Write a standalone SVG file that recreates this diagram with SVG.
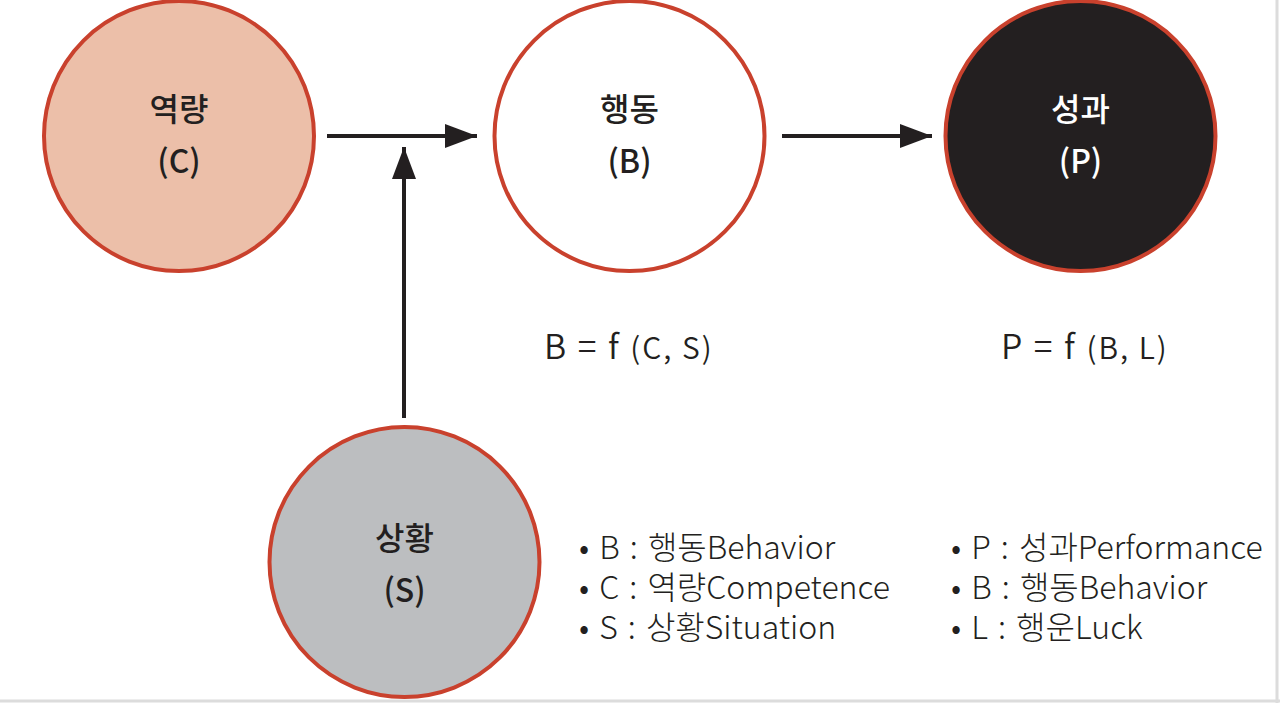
<svg xmlns="http://www.w3.org/2000/svg" width="1280" height="703" viewBox="0 0 1280 703">
  <defs>
    <style>
      .node { stroke: #c9412d; stroke-width: 4; }
      .lbl { font-family: "Noto Sans CJK KR", "Noto Sans", sans-serif; font-size: 32px; font-weight: 500; text-anchor: middle; fill: #231f20; }
      .lblw { fill: #ffffff; }
      .eq { font-family: "Noto Sans CJK KR", "Noto Sans", sans-serif; font-weight: 350; fill: #231f20; }
      .legend { font-family: "Noto Sans CJK KR", "Noto Sans", sans-serif; font-size: 32px; font-weight: 300; word-spacing: 3px; fill: #231f20; }
      .conn { stroke: #231f20; stroke-width: 4; fill: none; }
    </style>
    <marker id="arrow" viewBox="0 0 32 24" refX="32" refY="12" markerWidth="32" markerHeight="24" markerUnits="userSpaceOnUse" orient="auto">
      <path d="M0,0 L32,12 L0,24 Z" fill="#231f20"/>
    </marker>
  </defs>

  <rect x="0" y="0" width="1280" height="703" fill="#ffffff"/>
  <line x1="1277" y1="0" x2="1277" y2="703" stroke="#dcdcdc" stroke-width="3"/>
  <line x1="0" y1="701" x2="1280" y2="701" stroke="#dcdcdc" stroke-width="3"/>

  <g id="connectors">
    <line class="conn" x1="327" y1="136" x2="477" y2="136" marker-end="url(#arrow)"/>
    <line class="conn" x1="782" y1="136" x2="932" y2="136" marker-end="url(#arrow)"/>
    <line class="conn" x1="404" y1="418" x2="404" y2="147" marker-end="url(#arrow)"/>
  </g>

  <g id="node-C">
    <circle class="node" cx="179" cy="136" r="135" fill="#ecbfa9"/>
    <text class="lbl" x="179" y="121">역량</text>
    <text class="lbl" x="179" y="173">(C)</text>
  </g>

  <g id="node-B">
    <circle class="node" cx="629.5" cy="136" r="135" fill="#ffffff"/>
    <text class="lbl" x="629.5" y="121">행동</text>
    <text class="lbl" x="629.5" y="173">(B)</text>
  </g>

  <g id="node-P">
    <circle class="node" cx="1080.5" cy="136" r="135" fill="#231f20"/>
    <text class="lbl lblw" x="1080.5" y="121">성과</text>
    <text class="lbl lblw" x="1080.5" y="173">(P)</text>
  </g>

  <g id="node-S">
    <circle class="node" cx="404.5" cy="562" r="135" fill="#bcbec0"/>
    <text class="lbl" x="404.5" y="550">상황</text>
    <text class="lbl" x="404.5" y="602">(S)</text>
  </g>

  <g id="formula-B">
    <text class="eq" x="544" y="359"><tspan font-size="34" letter-spacing="2">B = f </tspan><tspan font-size="30" letter-spacing="2">(C, S)</tspan></text>
  </g>

  <g id="formula-P">
    <text class="eq" x="1001" y="359"><tspan font-size="34" letter-spacing="2">P = f </tspan><tspan font-size="30" letter-spacing="2">(B, L)</tspan></text>
  </g>

  <g id="legend-B">
    <text class="legend"><tspan x="579" y="559">• B : 행동Behavior</tspan><tspan x="579" y="599">• C : 역량Competence</tspan><tspan x="579" y="639">• S : 상황Situation</tspan></text>
  </g>

  <g id="legend-P">
    <text class="legend"><tspan x="951" y="559">• P : 성과Performance</tspan><tspan x="951" y="599">• B : 행동Behavior</tspan><tspan x="951" y="639">• L : 행운Luck</tspan></text>
  </g>
</svg>
